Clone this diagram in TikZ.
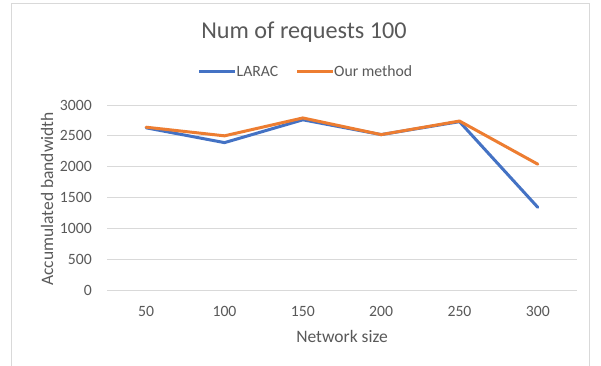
\documentclass[tikz,border=0pt]{standalone}
\usepackage{fontspec}
\setmainfont{Carlito}
\definecolor{txt}{HTML}{595959}
\definecolor{grid}{HTML}{D9D9D9}
\definecolor{frame}{HTML}{D9D9D9}
\definecolor{blueS}{HTML}{4472C4}
\definecolor{orangeS}{HTML}{ED7D31}
\tikzset{
  gridline/.style={draw=grid, line width=1pt},
  series/.style={line width=3pt, line join=round, line cap=round},
  ticklab/.style={text=txt, font=\fontsize{15.7}{15.7}\selectfont, inner sep=0pt},
  axtitle/.style={text=txt, font=\fontsize{17.5}{17.5}\selectfont, inner sep=0pt},
}
\begin{document}
\begin{tikzpicture}[x=1pt,y=-1pt]
\useasboundingbox (0,0) rectangle (601,365);
\fill[white] (0,0) rectangle (601,365);
\draw[frame, line width=1.2pt] (11.5,3.5) rectangle (589.5,370);
% title
\node[text=txt, font=\fontsize{24.2}{24.2}\selectfont, inner sep=0pt] (title) at (304,32) {Num of requests 100};
% legend
\coordinate (lb1) at (199,71); \coordinate (lb2) at (235,71);
\draw[series, blueS, line cap=butt] (lb1) -- (lb2);
\node[ticklab, anchor=west] (lblarac) at (236.5,71.5) {LARAC};
\coordinate (lo1) at (297,71); \coordinate (lo2) at (333,71);
\draw[series, orangeS, line cap=butt] (lo1) -- (lo2);
\node[ticklab, anchor=west] (lbours) at (334,71.5) {Our method};
% grid and y labels
\foreach \v/\n in {0/0,500/1,1000/2,1500/3,2000/4,2500/5,3000/6}{
  \pgfmathsetmacro{\yy}{290-\v/3000*185}
  \coordinate (gl\n) at (107,\yy);
  \coordinate (gr\n) at (577,\yy);
  \draw[gridline] (gl\n) -- (gr\n);
  \node[ticklab, anchor=east] (yl\n) at (92,\yy) {\v};
}
% x labels
\foreach \c [count=\i] in {50,100,150,200,250,300}{
  \pgfmathsetmacro{\xx}{107+78.33*(\i-0.5)}
  \node[ticklab] (xl\i) at (\xx,311) {\c};
}
% axis titles
\node[axtitle, rotate=90] (ytitle) at (47,199) {Accumulated bandwidth};
\node[axtitle] (xtitle) at (342,336) {Network size};
% data
\foreach \v [count=\i] in {2630,2390,2760,2520,2730,1340}{
  \pgfmathsetmacro{\xx}{107+78.33*(\i-0.5)}
  \pgfmathsetmacro{\yy}{290-\v/3000*185}
  \coordinate (b\i) at (\xx,\yy);
}
\foreach \v [count=\i] in {2640,2500,2790,2520,2740,2040}{
  \pgfmathsetmacro{\xx}{107+78.33*(\i-0.5)}
  \pgfmathsetmacro{\yy}{290-\v/3000*185}
  \coordinate (o\i) at (\xx,\yy);
}
\draw[series, blueS] (b1) -- (b2) -- (b3) -- (b4) -- (b5) -- (b6);
\draw[series, orangeS] (o1) -- (o2) -- (o3) -- (o4) -- (o5) -- (o6);
\end{tikzpicture}
\end{document}
